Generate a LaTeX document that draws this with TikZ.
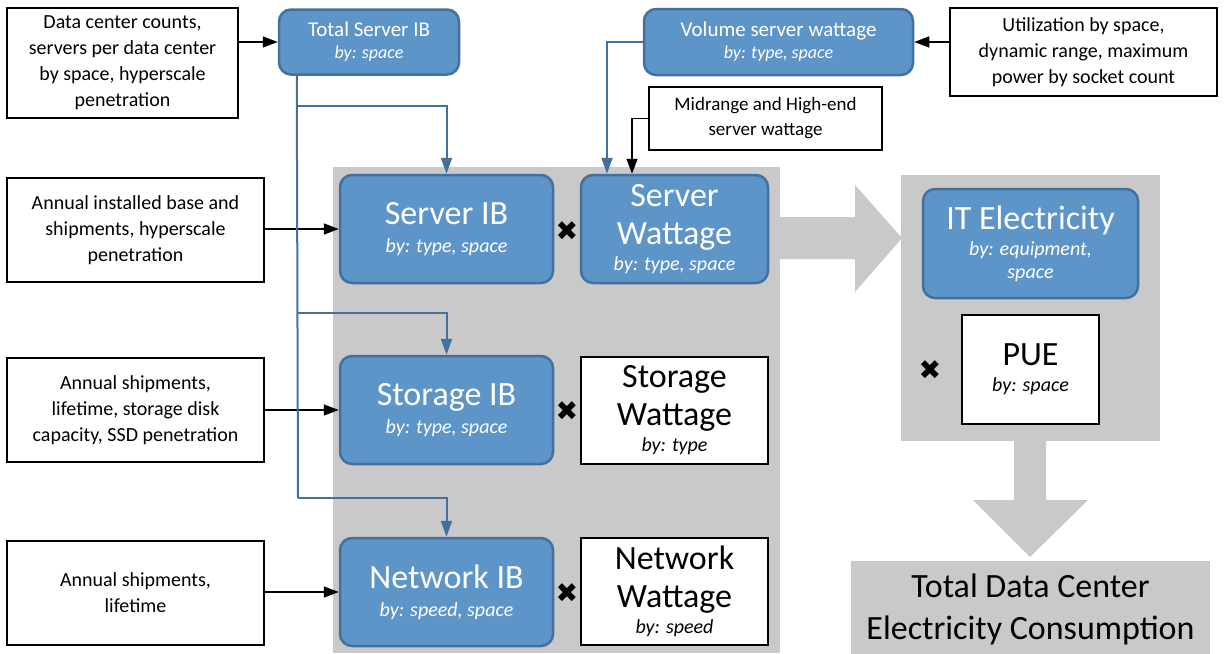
\documentclass[tikz,border=0pt]{standalone}
\usepackage{fontspec}
\setmainfont{Carlito}
\newfontfamily\symfont{DejaVu Sans}
\usetikzlibrary{arrows.meta}
\definecolor{bfill}{HTML}{5D95C9}
\definecolor{bdraw}{HTML}{41719C}
\definecolor{gfill}{HTML}{C9C9C9}
\newcommand{\bigt}{\fontsize{34}{38}\selectfont}
\newcommand{\byt}{\fontsize{20}{24}\selectfont\itshape}
\newcommand{\srct}{\fontsize{20}{26}\selectfont}
\begin{document}
\begin{tikzpicture}[x=1pt,y=-1pt,
  bluebox/.style={draw=bdraw, line width=2.5pt, fill=bfill, rounded corners=12pt, text=white, align=center, inner sep=0pt},
  whitebox/.style={draw=black, line width=2.5pt, fill=white, align=center, inner sep=0pt},
  srcbox/.style={draw=black, line width=2.5pt, fill=white, align=center, inner sep=0pt, font=\srct},
  arr/.style={draw=black, line width=1.5pt, -{Triangle[length=15pt,width=11pt]}},
  bline/.style={draw=bdraw, line width=2pt},
  barr/.style={draw=bdraw, line width=2pt, -{Triangle[length=16pt,width=11pt]}},
  times/.style={font=\symfont\fontsize{27}{27}\selectfont, inner sep=0pt},
  grayshape/.style={fill=gfill, draw=none}
]
\useasboundingbox (0,0) rectangle (1225,653);
% gray background shapes
\fill[gfill] (333,167) rectangle (780,653);
\fill[gfill] (780,217) -- (855,217) -- (855,185) -- (902,238) -- (855,292) -- (855,259) -- (780,259) -- cycle;
\fill[gfill] (901,175) rectangle (1160,441);
\fill[gfill] (1014,441) -- (1046,441) -- (1046,500) -- (1088,500) -- (1030,557) -- (973,500) -- (1014,500) -- cycle;

% source boxes
\node[srcbox, minimum width=231pt, minimum height=110pt] (b1) at (122.5,63) {Data center counts,\\servers per data center\\by space, hyperscale\\penetration};
\node[srcbox, minimum width=257pt, minimum height=104pt] (b2) at (135.5,230) {Annual installed base and\\shipments, hyperscale\\penetration};
\node[srcbox, minimum width=257pt, minimum height=104pt] (b3) at (135.5,410) {Annual shipments,\\lifetime, storage disk\\capacity, SSD penetration};
\node[srcbox, minimum width=257pt, minimum height=104pt] (b4) at (135.5,593) {Annual shipments,\\lifetime};
\node[srcbox, minimum width=267pt, minimum height=88pt] (util) at (1083.5,52) {Utilization by space,\\dynamic range, maximum\\power by socket count};
\node[srcbox, font=\fontsize{19}{25}\selectfont, minimum width=233pt, minimum height=63pt] (mid) at (765.5,118.5) {Midrange and High-end\\server wattage};

% blue boxes
\node[bluebox, font=\fontsize{21}{22}\selectfont, minimum width=180pt, minimum height=65pt] (tsib) at (369,42) {Total Server IB\\{\fontsize{18}{21}\selectfont\itshape by: space}};
\node[bluebox, font=\fontsize{21}{22}\selectfont, minimum width=269pt, minimum height=66pt] (vsw) at (778.5,42) {Volume server wattage\\{\fontsize{18}{21}\selectfont\itshape by: type, space}};
\node[bluebox, font=\bigt, minimum width=213pt, minimum height=108pt] (sib) at (446.5,229) {Server IB\\[-10pt]{\byt by: type, space}};
\node[bluebox, font=\bigt, minimum width=187pt, minimum height=108pt] (sw) at (674.5,229) {Server\\Wattage\\[-12pt]{\byt by: type, space}};
\node[bluebox, font=\bigt, minimum width=213pt, minimum height=108pt] (stib) at (446.5,410) {Storage IB\\[-10pt]{\byt by: type, space}};
\node[bluebox, font=\bigt, minimum width=213pt, minimum height=108pt] (nib) at (446.5,592) {Network IB\\[-10pt]{\byt by: speed, space}};
\node[bluebox, font=\bigt, minimum width=215pt, minimum height=109pt] (ite) at (1030.5,243.5) {IT Electricity\\[-12pt]{\byt by: equipment,}\\[-15pt]{\byt space}};

% white boxes
\node[whitebox, font=\bigt, minimum width=187pt, minimum height=107pt] (stw) at (674.5,410.5) {Storage\\Wattage\\[-12pt]{\byt by: type}};
\node[whitebox, font=\bigt, minimum width=187pt, minimum height=107pt] (nw) at (674.5,591.5) {Network\\Wattage\\[-12pt]{\byt by: speed}};
\node[whitebox, font=\bigt, minimum width=137pt, minimum height=109pt] (pue) at (1030.5,369.5) {PUE\\[-12pt]{\byt by: space}};

\node[fill=gfill, minimum width=359pt, minimum height=96pt, inner sep=0pt, align=center, font=\fontsize{34}{42}\selectfont] (total) at (1030.5,609) {Total Data Center\\Electricity Consumption};

% multiplication marks
\node[times] (x1) at (567,231) {✖};
\node[times] (x2) at (567,411) {✖};
\node[times] (x3) at (567,593) {✖};
\node[times] (x4) at (930,370) {✖};

% black arrows
\draw[arr] (b1.east |- tsib.west) -- (tsib.west);
\draw[arr] (b2.east |- sib.west) -- (sib.west);
\draw[arr] (b3.east |- stib.west) -- (stib.west);
\draw[arr] (b4.east |- nib.west) -- (nib.west);
\draw[arr] (util.west |- vsw.east) -- (vsw.east);
\draw[arr] (mid.west) -| ([xshift=-42.5pt]sw.north);

% blue connectors
\coordinate (trunk) at ([xshift=19pt]tsib.south west);
\coordinate (j1) at (298,106);
\coordinate (j2) at (298,313);
\coordinate (j3) at (298,498);
\draw[bline] (trunk) -- (j3);
\draw[barr] (j1) -| (sib.north);
\draw[barr] (j2) -| (stib.north);
\draw[barr] (j3) -| (nib.north);
\draw[barr] (vsw.west) -| ([xshift=-67.5pt]sw.north);
\end{tikzpicture}
\end{document}
